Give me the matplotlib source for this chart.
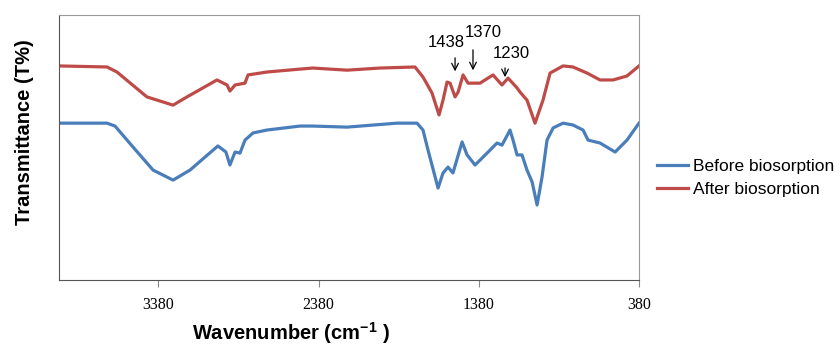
import matplotlib.pyplot as plt

plt.rcParams['font.family'] = ['Liberation Sans', 'DejaVu Sans']
plt.rcParams['mathtext.fontset'] = 'custom'
plt.rcParams['mathtext.rm'] = 'Liberation Sans'
plt.rcParams['mathtext.bf'] = 'Liberation Sans:bold'

# FTIR spectra (wavenumber in cm-1, transmittance in arbitrary %)
wn_before = [4000, 3700, 3650, 3538, 3413, 3288, 3182, 3008, 2958, 2933, 2901, 2870, 2839,
             2789, 2702, 2496, 2415, 2202, 1890, 1765, 1728, 1697, 1634, 1603, 1572, 1541,
             1484, 1453, 1403, 1328, 1266, 1235, 1185, 1166, 1141, 1110, 1079, 1047, 1016,
             985, 954, 916, 854, 792, 729, 698, 623, 529, 455, 380]
t_before = [59.2, 59.2, 58.1, 50.2, 41.5, 37.7, 41.5, 50.6, 48.3, 43.4, 48.3, 47.9, 52.8,
            55.5, 56.6, 58.1, 58.1, 57.7, 59.2, 59.2, 56.6, 49.1, 34.7, 40.4, 42.6, 40.4,
            52.1, 47.2, 43.4, 47.9, 51.7, 50.9, 56.6, 52.8, 47.2, 47.2, 41.5, 37.0, 28.3,
            38.9, 52.8, 57.4, 59.2, 58.5, 56.6, 52.8, 51.7, 48.3, 52.8, 59.2]

wn_after = [4000, 3700, 3638, 3451, 3288, 3201, 3014, 2951, 2933, 2901, 2839, 2820, 2702,
            2496, 2415, 2202, 1996, 1778, 1728, 1672, 1628, 1603, 1578, 1559, 1528, 1509,
            1478, 1447, 1372, 1291, 1235, 1197, 1141, 1122, 1079, 1029, 979, 935, 854, 792,
            704, 623, 542, 455, 380]
t_after = [80.8, 80.4, 78.5, 69.1, 66.0, 69.1, 75.5, 73.6, 71.3, 73.6, 74.3, 77.4, 78.5,
           79.6, 80.0, 79.2, 80.0, 80.4, 76.6, 70.6, 62.3, 67.9, 74.7, 74.3, 69.1, 70.9,
           77.4, 74.3, 74.3, 77.4, 73.6, 76.2, 72.5, 70.9, 67.9, 59.2, 67.9, 78.1, 80.8, 80.4,
           78.1, 75.5, 75.5, 77.0, 80.8]

peak_labels = ['1438', '1370', '1230']
peak_x = [1528, 1416, 1216]
arrow_top = [84.9, 87.9, 81.1]
arrow_tip = [77.7, 78.1, 75.5]
label_x = [1584, 1353, 1178]
label_y = [89.8, 93.6, 85.3]

xticks = [3380, 2380, 1380, 380]

fig = plt.figure(figsize=(8.4, 3.5), dpi=100)
ax = fig.add_axes([0.0702, 0.2, 0.6905, 0.757])

ax.plot(wn_before, t_before, color='#4A7EBB', lw=2.3, label='Before biosorption')
ax.plot(wn_after, t_after, color='#BE4B48', lw=2.3, label='After biosorption')

for lab, px, y0, y1, lx, ly in zip(peak_labels, peak_x, arrow_top, arrow_tip, label_x, label_y):
    ax.annotate('', xy=(px, y1), xytext=(px, y0),
                arrowprops=dict(arrowstyle='->', color='black', lw=0.9,
                                mutation_scale=12))
    ax.text(lx, ly, lab, ha='center', va='center', fontsize=12)

ax.set_xlim(4000, 380)
ax.set_ylim(0, 100)
ax.set_xticks(xticks)
ax.set_xticklabels([str(v) for v in xticks], family='Liberation Serif', fontsize=11.5)
ax.set_yticks([])
ax.tick_params(axis='x', direction='out', length=5, color='#888888', pad=7)

for s in ['left', 'bottom']:
    ax.spines[s].set_color('#555555')
for s in ['top', 'right']:
    ax.spines[s].set_color('#999999')

ax.set_ylabel('Transmittance (T%)', fontsize=14.5, fontweight='bold')
ax.yaxis.set_label_coords(-0.043, 0.558)
ax.set_xlabel(r'Wavenumber (cm$^{\mathbf{-1}}$ )', fontsize=14.5, fontweight='bold')
ax.xaxis.set_label_coords(0.4, -0.15)

fig.legend(loc='center left', bbox_to_anchor=(0.782, 0.491), frameon=False, fontsize=12.5,
           handlelength=1.8, handletextpad=0.3, labelspacing=0.45, borderpad=0,
           borderaxespad=0)

fig.savefig('out.png', dpi=100)
